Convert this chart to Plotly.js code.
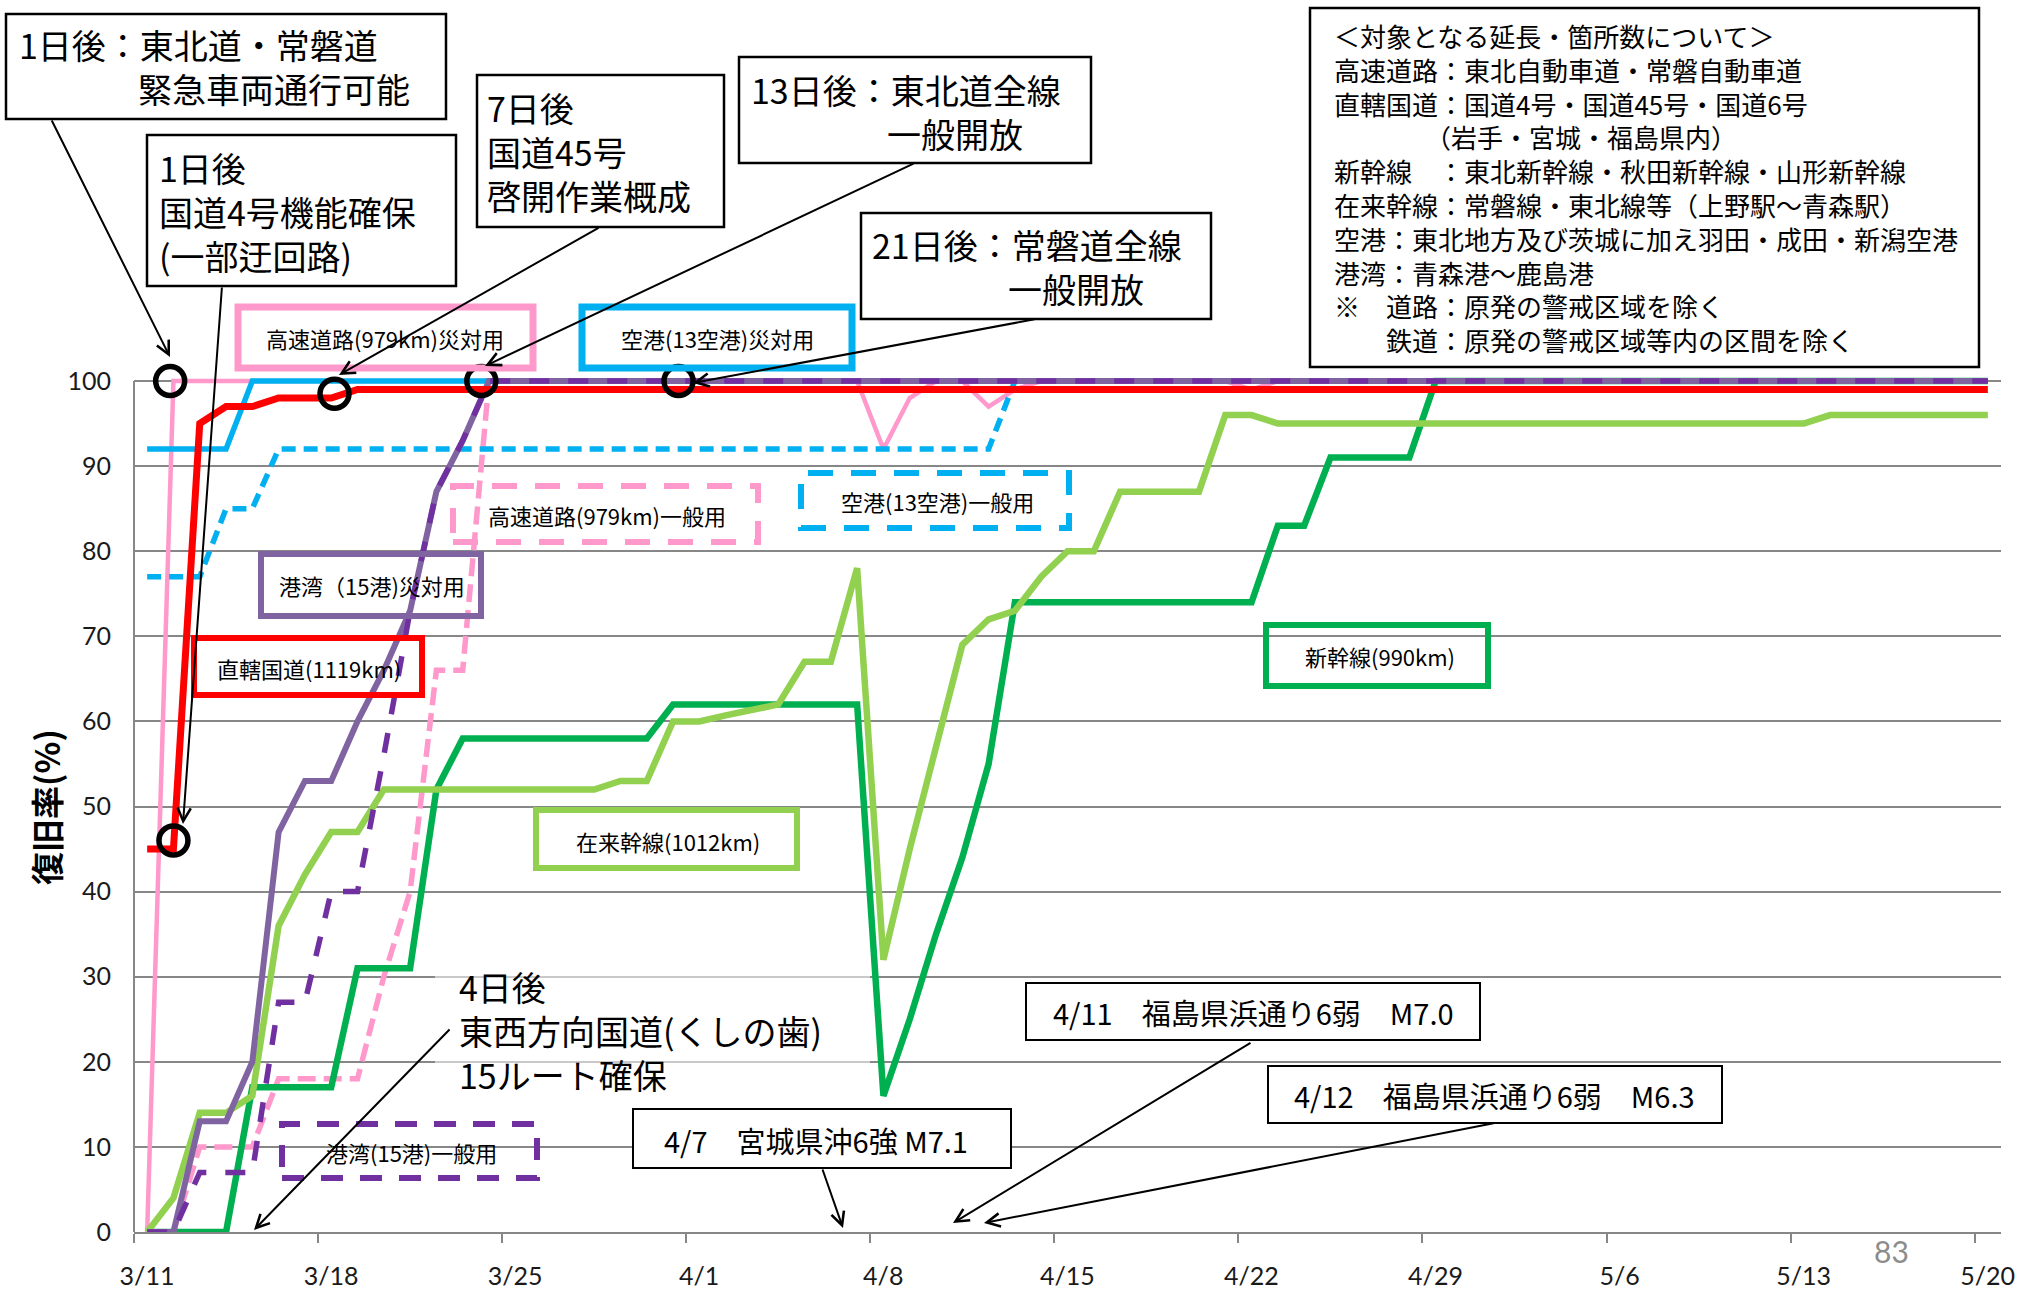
<!DOCTYPE html>
<html>
<head>
<meta charset="utf-8">
<script src="https://cdn.plot.ly/plotly-3.0.1.min.js"></script>
<style>
  html, body { margin: 0; padding: 0; background: #fff; }
  #chart { width: 2017px; height: 1296px; }
</style>
</head>
<body>
<div id="chart"></div>
<script>
// days since 3/11 (2011), one value per day up to 5/20
const days = [
  '03-11','03-12','03-13','03-14','03-15','03-16','03-17','03-18','03-19','03-20',
  '03-21','03-22','03-23','03-24','03-25','03-26','03-27','03-28','03-29','03-30',
  '03-31','04-01','04-02','04-03','04-04','04-05','04-06','04-07','04-08','04-09',
  '04-10','04-11','04-12','04-13','04-14','04-15','04-16','04-17','04-18','04-19',
  '04-20','04-21','04-22','04-23','04-24','04-25','04-26','04-27','04-28','04-29',
  '04-30','05-01','05-02','05-03','05-04','05-05','05-06','05-07','05-08','05-09',
  '05-10','05-11','05-12','05-13','05-14','05-15','05-16','05-17','05-18','05-19',
  '05-20'
];

// 高速道路(979km)災対用
const highwayDisaster = [
  0,100,100,100,100,100,100,100,100,100,
  100,100,100,100,100,100,100,100,100,100,
  100,100,100,100,100,100,100,100,92,98,
  100,100,97,99,100,100,100,100,100,100,
  100,100,99,100,100,100,100,100,100,100,
  100,100,100,100,100,100,100,100,100,100,
  100,100,100,100,100,100,100,100,100,100,
  100
];
// 高速道路(979km)一般用
const highwayGeneral = [
  0,0,10,10,10,18,18,18,18,30,
  40,66,66,100,100,100,100,100,100,100,
  100,100,100,100,100,100,100,100,100,100,
  100,100,100,100,100,100,100,100,100,100,
  100,100,100,100,100,100,100,100,100,100,
  100,100,100,100,100,100,100,100,100,100,
  100,100,100,100,100,100,100,100,100,100,
  100
];
// 直轄国道(1119km)
const nationalRoad = [
  45,45,95,97,97,98,98,98,99,99,
  99,99,99,99,99,99,99,99,99,99,
  99,99,99,99,99,99,99,99,99,99,
  99,99,99,99,99,99,99,99,99,99,
  99,99,99,99,99,99,99,99,99,99,
  99,99,99,99,99,99,99,99,99,99,
  99,99,99,99,99,99,99,99,99,99,
  99
];
// 新幹線(990km)
const shinkansen = [
  0,0,0,0,17,17,17,17,31,31,
  31,52,58,58,58,58,58,58,58,58,
  62,62,62,62,62,62,62,62,16,25,
  35,44,55,74,74,74,74,74,74,74,
  74,74,74,83,83,91,91,91,91,100,
  100,100,100,100,100,100,100,100,100,100,
  100,100,100,100,100,100,100,100,100,100,
  100
];
// 在来幹線(1012km)
const conventional = [
  0,4,14,14,16,36,42,47,47,52,
  52,52,52,52,52,52,52,52,53,53,
  60,60,60.7,61.3,62,67,67,78,32,45,
  57,69,72,73,77,80,80,87,87,87,
  87,96,96,95,95,95,95,95,95,95,
  95,95,95,95,95,95,95,95,95,95,
  95,95,95,95,96,96,96,96,96,96,
  96
];
// 空港(13空港)災対用
const airportDisaster = [
  92,92,92,92,100,100,100,100,100,100,
  100,100,100,100,100,100,100,100,100,100,
  100,100,100,100,100,100,100,100,100,100,
  100,100,100,100,100,100,100,100,100,100,
  100,100,100,100,100,100,100,100,100,100,
  100,100,100,100,100,100,100,100,100,100,
  100,100,100,100,100,100,100,100,100,100,
  100
];
// 空港(13空港)一般用
const airportGeneral = [
  77,77,77,85,85,92,92,92,92,92,
  92,92,92,92,92,92,92,92,92,92,
  92,92,92,92,92,92,92,92,92,92,
  92,92,92,100,100,100,100,100,100,100,
  100,100,100,100,100,100,100,100,100,100,
  100,100,100,100,100,100,100,100,100,100,
  100,100,100,100,100,100,100,100,100,100,
  100
];
// 港湾(15港)災対用
const portDisaster = [
  0,0,13,13,20,47,53,53,60,66,
  73,87,93,100,100,100,100,100,100,100,
  100,100,100,100,100,100,100,100,100,100,
  100,100,100,100,100,100,100,100,100,100,
  100,100,100,100,100,100,100,100,100,100,
  100,100,100,100,100,100,100,100,100,100,
  100,100,100,100,100,100,100,100,100,100,
  100
];
// 港湾(15港)一般用
const portGeneral = [
  0,0,7,7,7,27,27,40,40,56,
  73,87,93,100,100,100,100,100,100,100,
  100,100,100,100,100,100,100,100,100,100,
  100,100,100,100,100,100,100,100,100,100,
  100,100,100,100,100,100,100,100,100,100,
  100,100,100,100,100,100,100,100,100,100,
  100,100,100,100,100,100,100,100,100,100,
  100
];

// highlighted milestones (circles)
const milestoneDates = ['2011-03-11 21:00', '2011-03-12', '2011-03-18 03:00', '2011-03-23 17:00', '2011-03-31 05:00'];
const milestoneValues = [100, 46, 98.5, 100, 100];

const tickDates = ['03-10','03-17','03-24','03-31','04-07','04-14','04-21','04-28','05-05','05-12','05-19'];
const tickLabels = ['3/11','3/18','3/25','4/1','4/8','4/15','4/22','4/29','5/6','5/13','5/20'];
const yTicks = [0,10,20,30,40,50,60,70,80,90,100];

const x = days.map(d => '2011-' + d);

const fontJP = '"Noto Sans CJK JP", "Noto Sans", sans-serif';
const fontNum = 'Lato, "Noto Sans CJK JP", sans-serif';
const gridGray = '#878787';

// plot area in page pixels
const L = 134, T = 364, W = 1867, H = 868;
const px = v => (v - L) / W;
const py = v => 1 - (v - T) / H;

function line(y, name, color, width, dash) {
    return {
        x: x, y: y, name: name, type: 'scatter', mode: 'lines',
        line: { color: color, width: width, dash: dash || 'solid' },
        hoverinfo: 'skip'
    };
}

const traces = [
    line(highwayDisaster, '高速道路(979km)災対用', '#FF99CC', 4.5),
    line(highwayGeneral, '高速道路(979km)一般用', '#FF99CC', 5.5, '18px,8px'),
    line(shinkansen, '新幹線(990km)', '#00B050', 6.5),
    line(conventional, '在来幹線(1012km)', '#92D050', 6.5),
    line(airportDisaster, '空港(13空港)災対用', '#00B0F0', 5.5),
    line(airportGeneral, '空港(13空港)一般用', '#00B0F0', 5.5, '14px,8px'),
    line(portDisaster, '港湾(15港)災対用', '#8064A2', 6),
    line(nationalRoad, '直轄国道(1119km)', '#FF0000', 7),
    line(portGeneral, '港湾(15港)一般用', '#7030A0', 5.5, '20px,19px'),
    {
        x: milestoneDates, y: milestoneValues, type: 'scatter', mode: 'markers',
        marker: { symbol: 'circle-open', size: 29, color: '#000', line: { width: 5.5, color: '#000' } },
        cliponaxis: false, hoverinfo: 'skip'
    }
];

// --- boxes and texts ---
function rect(x0, y0, x1, y1, color, width, dash, fill) {
    return {
        type: 'rect', xref: 'paper', yref: 'paper',
        x0: px(x0), x1: px(x1), y0: py(y1), y1: py(y0),
        line: { color: color, width: width, dash: dash || 'solid' },
        fillcolor: fill || 'rgba(0,0,0,0)', layer: 'above'
    };
}
function label(x0, y0, text, size, anchor, family) {
    return {
        xref: 'paper', yref: 'paper', x: px(x0), y: py(y0),
        xanchor: anchor || 'left', yanchor: 'middle', align: 'left', showarrow: false,
        text: text, font: { family: family || fontJP, size: size, color: '#000' }
    };
}
function arrow(x0, y0, x1, y1) {
    return {
        xref: 'paper', yref: 'paper', x: px(x1), y: py(y1),
        axref: 'pixel', ayref: 'pixel', ax: x0 - x1, ay: y0 - y1,
        text: '', showarrow: true, arrowhead: 5, arrowsize: 1.3, arrowwidth: 2,
        arrowcolor: '#000', standoff: 0
    };
}

const shapes = [
    // y axis line (only up to 100)
    { type: 'line', xref: 'paper', yref: 'y', x0: 0, x1: 0, y0: 0, y1: 100, line: { color: gridGray, width: 2 } },
    // faint white panel behind the 4日後 note
    rect(435, 953, 870, 1100, 'rgba(0,0,0,0)', 0, null, 'rgba(255,255,255,0.55)'),
    // series labels
    rect(238, 307, 533, 368, '#FF99CC', 7),
    rect(582, 307, 852, 368, '#00B0F0', 7),
    rect(453, 486, 758, 542, '#FF99CC', 6, '25px,18px'),
    rect(801, 473, 1069, 528, '#00B0F0', 6, '25px,18px'),
    rect(261, 554, 481, 616, '#8064A2', 6),
    rect(194, 638, 422, 695, '#FF0000', 6),
    rect(536, 810, 797, 868, '#92D050', 6),
    rect(1266, 625, 1488, 686, '#00B050', 6),
    rect(282, 1124, 537, 1178, '#7030A0', 6, '22px,17px'),
    // callouts
    rect(6, 14, 446, 119, '#000', 2.5, null, '#fff'),
    rect(147, 135, 456, 286, '#000', 2.5, null, '#fff'),
    rect(477, 75, 724, 227, '#000', 2.5, null, '#fff'),
    rect(739, 57, 1091, 163, '#000', 2.5, null, '#fff'),
    rect(861, 213, 1211, 319, '#000', 2.5, null, '#fff'),
    rect(1310, 8, 1979, 367, '#000', 2.5, null, '#fff'),
    rect(633, 1109, 1011, 1168, '#000', 2, null, '#fff'),
    rect(1026, 983, 1480, 1040, '#000', 2, null, '#fff'),
    rect(1268, 1066, 1722, 1123, '#000', 2, null, '#fff')
];

const noteLines = [
    '＜対象となる延長・箇所数について＞',
    '高速道路：東北自動車道・常磐自動車道',
    '直轄国道：国道4号・国道45号・国道6号',
    '　　　　（岩手・宮城・福島県内）',
    '新幹線　：東北新幹線・秋田新幹線・山形新幹線',
    '在来幹線：常磐線・東北線等（上野駅～青森駅）',
    '空港：東北地方及び茨城に加え羽田・成田・新潟空港',
    '港湾：青森港～鹿島港',
    '※　道路：原発の警戒区域を除く',
    '　　鉄道：原発の警戒区域等内の区間を除く'
];

const annotations = [
    // y axis title
    {
        xref: 'paper', yref: 'paper', x: px(46), y: py(807), xanchor: 'center', yanchor: 'middle',
        textangle: -90, showarrow: false, text: '<b>復旧率(%)</b>',
        font: { family: fontJP, size: 33, color: '#000', weight: 'bold' }
    },
    // series labels
    label(385, 338, '高速道路(979km)災対用', 22, 'center'),
    label(717, 338, '空港(13空港)災対用', 22, 'center'),
    label(607, 515, '高速道路(979km)一般用', 22, 'center'),
    label(937, 501, '空港(13空港)一般用', 22, 'center'),
    label(372, 585, '港湾（15港)災対用', 22, 'center'),
    label(309, 668, '直轄国道(1119km)', 22, 'center'),
    label(668, 841, '在来幹線(1012km)', 22, 'center'),
    label(1380, 656, '新幹線(990km)', 22, 'center'),
    label(411, 1152, '港湾(15港)一般用', 22, 'center'),
    // callout texts
    label(17, 67, '1日後：東北道・常磐道<br>　　　\u2002緊急車両通行可能', 34),
    label(157, 211, '1日後<br>国道4号機能確保<br>(一部迂回路)', 34),
    label(485, 151, '7日後<br>国道45号<br>啓開作業概成', 34),
    label(749, 111, '13日後：東北道全線<br>　　　　一般開放', 34),
    label(870, 266, '21日後：常磐道全線<br>　　　　一般開放', 34),
    label(457, 1030, '4日後<br>東西方向国道(くしの歯)<br>15ルート確保', 34),
    label(662, 1140, '4/7　宮城県沖6強 M7.1', 29),
    label(1051, 1012, '4/11　福島県浜通り6弱　M7.0', 29),
    label(1292, 1095, '4/12　福島県浜通り6弱　M6.3', 29),
    label(1332, 187, noteLines.join('<br>'), 26),
    // page number
    {
        xref: 'paper', yref: 'paper', x: px(1891), y: py(1251), xanchor: 'center', yanchor: 'middle',
        showarrow: false, text: '83', font: { family: fontNum, size: 30, color: '#8c8c8c' }
    },
    // arrows
    arrow(51, 119, 170, 357),
    arrow(222, 286, 183, 824),
    arrow(600, 227, 339, 375),
    arrow(915, 163, 485, 366),
    arrow(1036, 319, 693, 383),
    arrow(451, 1028, 254, 1230),
    arrow(822, 1168, 843, 1228),
    arrow(1252, 1042, 953, 1223),
    arrow(1495, 1123, 984, 1223)
];

const layout = {
    width: 2017, height: 1296,
    margin: { l: L, r: 2017 - L - W, t: T, b: 1296 - T - H },
    paper_bgcolor: '#fff', plot_bgcolor: '#fff',
    showlegend: false,
    font: { family: fontJP, color: '#000' },
    xaxis: {
        type: 'date',
        range: ['2011-03-10 12:00', '2011-05-20 12:00'],
        tickvals: tickDates.map(d => '2011-' + d + ' 12:00'),
        ticktext: tickLabels,
        ticklabelshift: 13,
        ticklabelstandoff: 12,
        ticks: 'outside', ticklen: 9, tickwidth: 2, tickcolor: gridGray,
        showline: true, linecolor: gridGray, linewidth: 2,
        showgrid: false, zeroline: false,
        tickfont: { family: fontNum, size: 25, color: '#1a1a1a' }
    },
    yaxis: {
        range: [0, 102],
        tickvals: yTicks,
        ticks: '', ticklabelstandoff: 22,
        showline: false, zeroline: false,
        showgrid: true, gridcolor: gridGray, gridwidth: 2,
        tickfont: { family: fontNum, size: 25, color: '#1a1a1a' }
    },
    shapes: shapes,
    annotations: annotations
};

Plotly.newPlot('chart', traces, layout, { displayModeBar: false, staticPlot: true });
</script>
</body>
</html>
